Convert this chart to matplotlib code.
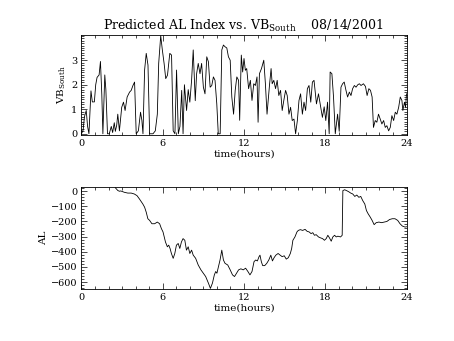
import numpy as np
import matplotlib
matplotlib.use("Agg")
import matplotlib.pyplot as plt
from matplotlib.ticker import MultipleLocator

plt.rcParams['font.family'] = ['DejaVu Serif']
plt.rcParams['mathtext.fontset'] = 'dejavuserif'

# VB south (hours, value)
vb_hours = [0.0, 0.12, 0.22, 0.35, 0.45, 0.55, 0.7, 0.8, 0.95, 1.05, 1.15, 1.3, 1.4, 1.5,
            1.58, 1.72, 1.8, 1.92, 2.05, 2.2, 2.3, 2.42, 2.5, 2.6, 2.68, 2.8, 2.97, 3.1,
            3.22, 3.37, 3.55, 3.67, 3.8, 3.92, 4.04, 4.2, 4.36, 4.46, 4.54, 4.66, 4.78,
            4.91, 5.03, 5.28, 5.45, 5.6, 5.7, 5.85, 5.97, 6.1, 6.22, 6.35, 6.52, 6.65,
            6.77, 6.9, 7.02, 7.15, 7.27, 7.4, 7.5, 7.6, 7.76, 7.88, 8.0, 8.13, 8.25,
            8.4, 8.5, 8.62, 8.75, 8.87, 9.0, 9.12, 9.25, 9.37, 9.5, 9.62, 9.74, 9.86,
            9.99, 10.1, 10.24, 10.36, 10.48, 10.6, 10.73, 10.85, 10.98, 11.1, 11.23,
            11.35, 11.47, 11.6, 11.68, 11.8, 11.9, 12.0, 12.1, 12.2, 12.34, 12.47,
            12.59, 12.72, 12.84, 12.96, 13.04, 13.14, 13.29, 13.46, 13.58, 13.7, 13.88,
            14.0, 14.08, 14.2, 14.33, 14.45, 14.57, 14.7, 14.82, 14.94, 15.07, 15.19,
            15.32, 15.44, 15.56, 15.69, 15.81, 15.94, 16.06, 16.18, 16.31, 16.43,
            16.55, 16.68, 16.8, 16.93, 17.05, 17.17, 17.35, 17.5, 17.67, 17.79, 17.92,
            18.04, 18.17, 18.29, 18.36, 18.49, 18.61, 18.74, 18.91, 19.03, 19.16,
            19.28, 19.4, 19.53, 19.65, 19.78, 19.9, 20.02, 20.15, 20.27, 20.4, 20.52,
            20.64, 20.82, 20.97, 21.09, 21.22, 21.34, 21.46, 21.56, 21.69, 21.81,
            21.93, 22.06, 22.18, 22.31, 22.43, 22.55, 22.68, 22.8, 22.92, 23.05,
            23.17, 23.29, 23.42, 23.54, 23.66, 23.73, 23.85, 23.93, 24.0]
vb_south = [0.0, 0.15, 0.7, 0.95, 0.3, 0.0, 1.75, 1.3, 1.3, 2.0, 2.3, 2.4, 2.95, 1.6,
            0.0, 2.4, 1.8, 0.0, 0.0, 0.3, 0.05, 0.45, 0.1, 0.35, 0.8, 0.12, 1.08, 1.29,
            0.95, 1.5, 1.7, 1.77, 1.97, 2.11, 0.0, 0.12, 0.88, 0.54, 0.0, 2.6, 3.28,
            2.8, 0.0, 0.0, 0.12, 0.8, 2.87, 4.0, 3.42, 2.87, 2.25, 2.39, 3.28, 3.21,
            0.12, 0.0, 2.6, 0.0, 0.3, 1.77, 0.0, 2.0, 0.95, 1.8, 1.29, 2.18, 3.42,
            1.35, 2.45, 2.87, 2.45, 2.87, 1.9, 1.63, 3.14, 2.94, 1.9, 1.97, 2.32, 2.18,
            1.22, 0.0, 0.0, 3.42, 3.62, 3.55, 3.5, 3.14, 3.0, 1.5, 0.8,
            1.77, 2.32, 2.18, 0.55, 3.21, 2.52, 3.07, 2.59, 2.66, 1.84, 2.18,
            1.36, 2.04, 1.97, 2.32, 0.47, 2.45, 2.66, 3.0, 2.04, 0.8, 1.97,
            2.66, 2.04, 2.18, 1.84, 2.18, 1.56, 1.77, 0.95, 1.36, 1.77, 1.56,
            0.8, 1.08, 0.54, 0.6, 0.0, 0.54, 1.36, 1.63, 0.8, 1.29,
            0.95, 1.84, 1.97, 1.29, 2.11, 2.18, 1.22, 1.63, 1.08, 0.67, 1.1,
            0.54, 1.29, 0.0, 2.52, 2.45, 1.5, 0.0, 0.8, 0.1, 1.9,
            2.04, 2.11, 1.77, 1.5, 1.7, 1.56, 1.84, 1.97, 1.9, 2.0, 2.04,
            1.97, 2.04, 1.93, 1.56, 1.84, 1.77, 1.5, 0.26, 0.54, 0.47,
            0.8, 0.6, 0.4, 0.54, 0.26, 0.33, 0.12, 0.26, 0.74, 0.54,
            0.88, 0.8, 1.08, 1.5, 1.36, 0.95, 1.29, 1.08, 1.63]

# predicted AL index (hours, nT)
al_hours = [2.5, 2.68, 2.8, 2.9, 3.17, 3.42, 3.67, 3.9, 4.1, 4.28, 4.53, 4.66, 4.78, 4.9,
            5.03, 5.2, 5.4, 5.6, 5.77, 5.9, 6.02, 6.2, 6.34, 6.44, 6.54, 6.64, 6.77,
            6.89, 7.01, 7.14, 7.26, 7.38, 7.5, 7.63, 7.75, 7.88, 8.0, 8.13, 8.25,
            8.43, 8.62, 8.82, 9.0, 9.17, 9.37, 9.52, 9.67, 9.81, 9.91, 10.0, 10.11,
            10.23, 10.36, 10.48, 10.6, 10.8, 10.98, 11.15, 11.3, 11.45, 11.6, 11.77,
            11.94, 12.12, 12.29, 12.44, 12.59, 12.74, 12.86, 12.99, 13.11, 13.18,
            13.28, 13.38, 13.53, 13.68, 13.83, 13.98, 14.1, 14.22, 14.35, 14.52,
            14.67, 14.82, 14.97, 15.12, 15.27, 15.42, 15.52, 15.61, 15.76, 15.91,
            16.01, 16.16, 16.33, 16.51, 16.66, 16.81, 16.95, 17.08, 17.2, 17.33,
            17.5, 17.65, 17.8, 17.94, 18.07, 18.19, 18.31, 18.44, 18.56, 18.69,
            18.81, 18.93, 19.13, 19.25, 19.3, 19.43, 19.58, 19.73, 19.88, 20.03,
            20.18, 20.33, 20.48, 20.62, 20.77, 20.92, 21.04, 21.17, 21.32, 21.46,
            21.61, 21.76, 21.96, 22.16, 22.36, 22.55, 22.75, 22.95, 23.15, 23.35,
            23.52, 23.69, 23.89, 24.0]
al_index = [22, 4, -1, 1, -8, -13, -13, -19, -30, -52, -85, -106, -139, -182,
            -193, -215, -215, -204, -215, -247, -269, -335, -367, -356, -378, -411, -443,
            -411, -356, -345, -378, -335, -313, -324, -389, -367, -411, -389, -422,
            -443, -487, -519, -541, -563, -606, -641, -606, -552, -530, -541, -498,
            -454, -389, -454, -476, -487, -519, -552, -563, -541, -519, -512,
            -519, -508, -530, -552, -530, -465, -454, -460, -432, -422,
            -465, -491, -491, -476, -454, -422, -460, -439, -422, -411,
            -422, -432, -426, -448, -439, -411, -378, -324, -302, -269,
            -259, -254, -259, -252, -265, -269, -280, -274, -291, -287,
            -302, -308, -313, -324, -313, -291, -308, -330, -302, -291,
            -302, -297, -302, -291, 3, 9, 3, -4, -13, -19,
            -35, -26, -41, -35, -63, -85, -128, -150, -171, -193,
            -221, -208, -204, -208, -204, -200, -187, -182, -182, -193,
            -215, -230, -237, -235]

hour_ticks = [0, 6, 12, 18, 24]

fig = plt.figure(figsize=(4.54, 3.41), dpi=100)
ax1 = fig.add_axes([0.1795, 0.6041, 0.7159, 0.2933])
ax2 = fig.add_axes([0.1795, 0.1525, 0.7159, 0.2982])


def style_axes(ax):
    for sp in ax.spines.values():
        sp.set_linewidth(0.6)
    ax.tick_params(which='both', direction='in', top=True, right=True,
                   labelsize=7, width=0.5, pad=3)
    ax.tick_params(which='major', length=4.5)
    ax.tick_params(which='minor', length=2.2)
    ax.set_xlim(0, 24)
    ax.set_xticks(hour_ticks)
    ax.xaxis.set_minor_locator(MultipleLocator(1))
    ax.set_xlabel('time(hours)', fontsize=7.5, labelpad=1)


# panel 1: VB south
ax1.plot(vb_hours, vb_south, color='black', linewidth=0.6)
style_axes(ax1)
ax1.set_ylim(-0.05, 4.03)
ax1.set_yticks([0, 1, 2, 3])
ax1.yaxis.set_minor_locator(MultipleLocator(0.1))
ax1.set_ylabel(r'VB$_{\mathrm{South}}$', fontsize=7.5, labelpad=2)

# panel 2: AL index
ax2.plot(al_hours, al_index, color='black', linewidth=0.6)
style_axes(ax2)
ax2.set_ylim(-645, 25)
ax2.set_yticks(np.arange(-600, 1, 100))
ax2.yaxis.set_minor_locator(MultipleLocator(20))
ax2.set_ylabel('AL', fontsize=7.5, labelpad=2)

fig.text(0.535, 0.9135, r'Predicted AL Index vs. VB$_{\mathrm{South}}$    08/14/2001',
         ha='center', va='baseline', fontsize=9)

fig.savefig('out.png', dpi=100)
